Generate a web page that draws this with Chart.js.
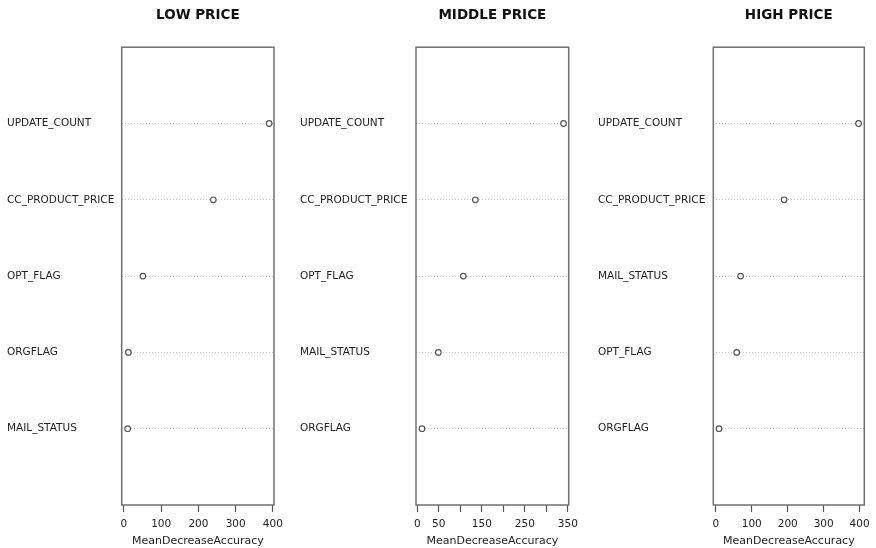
<!DOCTYPE html>
<html>
<head>
<meta charset="utf-8">
<script src="https://cdn.jsdelivr.net/npm/chart.js@4/dist/chart.umd.min.js"></script>
<style>
  html, body { margin: 0; padding: 0; background: #fff; }
  #wrap { position: relative; width: 876px; height: 548px; }
  .panel { position: absolute; top: 0; height: 548px; }
</style>
</head>
<body>
<div id="wrap">
  <div class="panel" style="left:0;width:292px"><canvas id="lowChart"></canvas></div>
  <div class="panel" style="left:293px;width:292px"><canvas id="midChart"></canvas></div>
  <div class="panel" style="left:585px;width:291px"><canvas id="highChart"></canvas></div>
</div>
<script>
// --- DADOS (de cima para baixo) ---
const lowCategories = ['UPDATE_COUNT', 'CC_PRODUCT_PRICE', 'OPT_FLAG', 'ORGFLAG', 'MAIL_STATUS'];
const lowValues = [390, 240, 51, 12, 10];
const lowTicks = [0, 100, 200, 300, 400];
const lowTickLabels = ['0', '100', '200', '300', '400'];

const midCategories = ['UPDATE_COUNT', 'CC_PRODUCT_PRICE', 'OPT_FLAG', 'MAIL_STATUS', 'ORGFLAG'];
const midValues = [340, 135, 107, 49, 11];
const midTicks = [0, 50, 100, 150, 200, 250, 300, 350];
const midTickLabels = ['0', '50', '', '150', '', '250', '', '350'];

const highCategories = ['UPDATE_COUNT', 'CC_PRODUCT_PRICE', 'MAIL_STATUS', 'OPT_FLAG', 'ORGFLAG'];
const highValues = [397, 190, 69, 58, 9];
const highTicks = [0, 100, 200, 300, 400];
const highTickLabels = ['0', '100', '200', '300', '400'];

const xTitle = 'MeanDecreaseAccuracy';

// caixa em volta da área do gráfico (estilo R)
const boxPlugin = {
    id: 'box',
    afterDraw(chart) {
        const a = chart.chartArea;
        const ctx = chart.ctx;
        ctx.save();
        ctx.strokeStyle = '#707070';
        ctx.lineWidth = 1.5;
        ctx.strokeRect(a.left, a.top, a.right - a.left, a.bottom - a.top);
        ctx.restore();
    }
};

function dotChart(id, title, categories, values, ticks, tickLabels, xMin, xMax, pad, yWidth) {
    const n = categories.length;
    const points = values.map((v, i) => ({ x: v, y: n - i }));
    new Chart(document.getElementById(id), {
        type: 'scatter',
        data: {
            datasets: [{
                data: points,
                pointRadius: 2.8,
                pointHoverRadius: 2.8,
                borderColor: '#555',
                borderWidth: 1.2,
                backgroundColor: '#fff'
            }]
        },
        options: {
            responsive: true,
            maintainAspectRatio: false,
            animation: false,
            layout: { padding: { left: pad.left, right: pad.right, top: 0, bottom: 0 } },
            plugins: {
                legend: { display: false },
                tooltip: { enabled: false },
                title: {
                    display: true,
                    text: title,
                    fullSize: false,
                    color: '#111',
                    font: { family: 'DejaVu Sans', size: 13.5, weight: 'bold' },
                    padding: { top: 7, bottom: 24 }
                }
            },
            scales: {
                x: {
                    type: 'linear',
                    min: xMin,
                    max: xMax,
                    afterBuildTicks: (axis) => { axis.ticks = ticks.map(v => ({ value: v })); },
                    afterFit: (axis) => { axis.height = 43; },
                    grid: {
                        drawOnChartArea: false,
                        drawTicks: true,
                        tickLength: 7,
                        tickColor: '#555',
                        tickWidth: 1.2
                    },
                    border: { display: false },
                    ticks: {
                        autoSkip: false,
                        maxRotation: 0,
                        padding: 6,
                        color: '#222',
                        font: { family: 'DejaVu Sans', size: 10.5 },
                        callback: (v) => {
                            const k = ticks.indexOf(v);
                            return k >= 0 ? tickLabels[k] : '';
                        }
                    },
                    title: {
                        display: true,
                        text: xTitle,
                        color: '#222',
                        font: { family: 'DejaVu Sans', size: 11 },
                        padding: { top: 3, bottom: 0 }
                    }
                },
                y: {
                    type: 'linear',
                    min: 0,
                    max: n + 1,
                    afterBuildTicks: (axis) => { axis.ticks = categories.map((c, i) => ({ value: n - i })); },
                    afterFit: (axis) => { axis.width = yWidth; },
                    grid: {
                        drawTicks: false,
                        color: '#c4c4c4',
                        lineWidth: 1
                    },
                    border: { display: false, dash: [1, 2] },
                    ticks: {
                        crossAlign: 'far',
                        color: '#222',
                        font: { family: 'DejaVu Sans', size: 10.5 },
                        callback: (v) => categories[n - v]
                    }
                }
            }
        },
        plugins: [boxPlugin]
    });
}

dotChart('lowChart', 'LOW PRICE', lowCategories, lowValues, lowTicks, lowTickLabels,
    -6, 403, { left: 7, right: 18 }, 114.7);
dotChart('midChart', 'MIDDLE PRICE', midCategories, midValues, midTicks, midTickLabels,
    -3, 352, { left: 7, right: 16.3 }, 116);
dotChart('highChart', 'HIGH PRICE', highCategories, highValues, highTicks, highTickLabels,
    -7, 413, { left: 13, right: 9.3 }, 115.3);
</script>
</body>
</html>
